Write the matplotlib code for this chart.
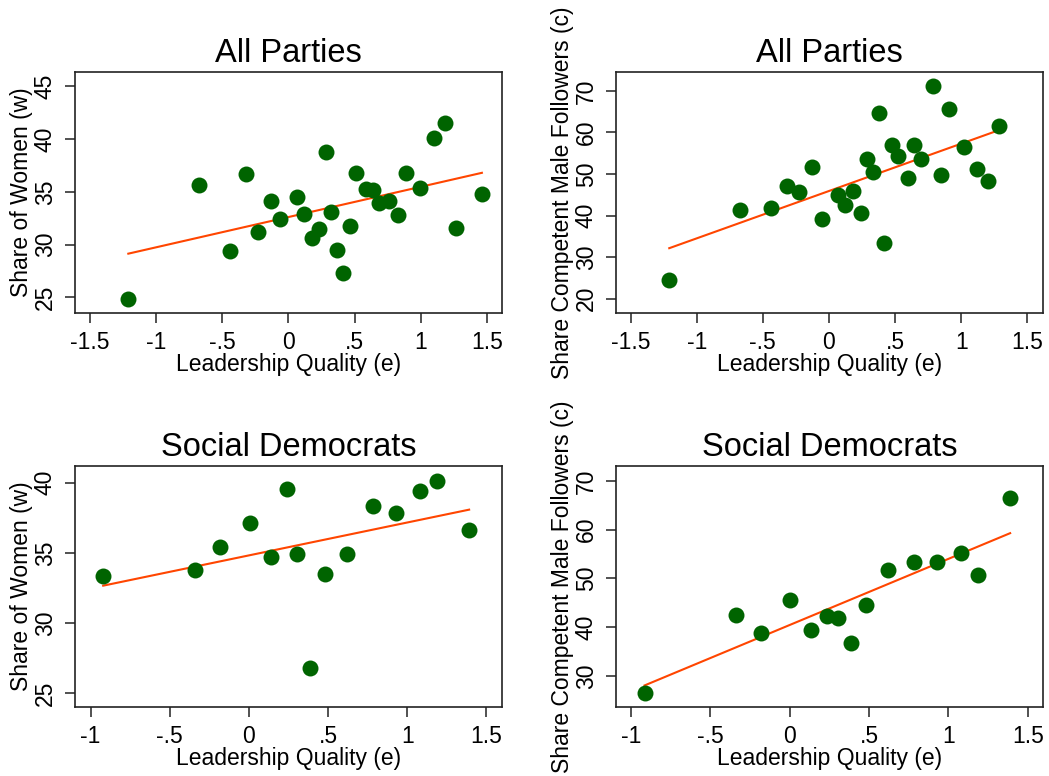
import numpy as np
import matplotlib.pyplot as plt

plt.rcParams['font.family'] = ['Liberation Sans', 'DejaVu Sans']

# All Parties: leadership quality (e) vs share of women (w)
ap_e_w = [-1.21, -0.675, -0.441, -0.322, -0.231, -0.131, -0.06, 0.066, 0.119, 0.182,
          0.232, 0.283, 0.323, 0.368, 0.414, 0.464, 0.512, 0.585, 0.643, 0.684,
          0.764, 0.832, 0.888, 0.996, 1.102, 1.183, 1.266, 1.463]
ap_w = [24.84, 35.64, 29.43, 36.71, 31.17, 34.15, 32.4, 34.55, 32.94, 30.6,
        31.46, 38.8, 33.1, 29.52, 27.34, 31.74, 36.8, 35.26, 35.16, 33.98,
        34.15, 32.85, 36.78, 35.41, 40.16, 41.55, 31.61, 34.78]

# All Parties: leadership quality (e) vs share competent male followers (c)
ap_e_c = [-1.208, -0.671, -0.439, -0.32, -0.229, -0.129, -0.055, 0.07, 0.119, 0.182,
          0.24, 0.29, 0.33, 0.376, 0.418, 0.474, 0.52, 0.6, 0.643, 0.696,
          0.784, 0.845, 0.908, 1.024, 1.122, 1.2, 1.288]
ap_c = [24.43, 41.28, 41.76, 47.2, 45.76, 51.78, 39.11, 44.96, 42.56, 45.93,
        40.56, 53.56, 50.43, 64.7, 33.48, 56.93, 54.35, 48.98, 57.07, 53.63,
        71.2, 49.7, 65.67, 56.52, 51.22, 48.41, 61.57]

# Social Democrats
sd_e = [-0.921, -0.341, -0.183, 0.004, 0.137, 0.238, 0.303, 0.386, 0.478, 0.622,
        0.784, 0.927, 1.079, 1.188, 1.391]
sd_w = [33.36, 33.78, 35.39, 37.14, 34.71, 39.58, 34.9, 26.75, 33.52, 34.9,
        38.37, 37.86, 39.44, 40.15, 36.65]
sd_e_c = [-0.913, -0.34, -0.181, 0.004, 0.136, 0.237, 0.306, 0.386, 0.481, 0.621,
          0.783, 0.928, 1.077, 1.184, 1.389]
sd_c = [26.53, 42.51, 38.84, 45.57, 39.45, 42.18, 41.9, 36.73, 44.63, 51.63,
        53.4, 53.4, 55.17, 50.67, 66.47]

xticks_all = [-1.5, -1, -0.5, 0, 0.5, 1, 1.5]
xticks_sd = [-1, -0.5, 0, 0.5, 1, 1.5]


def tick_fmt(v):
    s = f"{v:g}"
    return s.replace("0.", ".")


def panel(ax, x, y, title, ylabel, xticks, yticks, xlim, ylim):
    x = np.array(x)
    y = np.array(y)
    ax.scatter(x, y, s=132, color='#006400', linewidths=0, zorder=3)
    # linear fit line, as in the original
    b, a = np.polyfit(x, y, 1)
    xs = np.array([x.min(), x.max()])
    ax.plot(xs, a + b * xs, color='#ff4500', lw=1.5, zorder=2)
    ax.set_xlim(xlim)
    ax.set_ylim(ylim)
    ax.set_xticks(xticks)
    ax.set_xticklabels([tick_fmt(v) for v in xticks])
    ax.set_yticks(yticks)
    ax.set_yticklabels([str(v) for v in yticks], rotation=90, va='center')
    ax.tick_params(labelsize=16.5, length=7, width=1.2, pad=6, color='#333333')
    ax.set_title(title, fontsize=23.5, pad=7)
    ax.set_xlabel('Leadership Quality (e)', fontsize=16.5, labelpad=-1)
    ax.set_ylabel(ylabel, fontsize=16.5, labelpad=1)
    for sp in ax.spines.values():
        sp.set_linewidth(1.2)
        sp.set_color('#222222')


fig = plt.figure(figsize=(10.49, 7.76), dpi=100)
ax1 = fig.add_axes([0.0715, 0.5963, 0.4068, 0.3113])
ax2 = fig.add_axes([0.5872, 0.5963, 0.4068, 0.3113])
ax3 = fig.add_axes([0.0715, 0.0889, 0.4068, 0.3106])
ax4 = fig.add_axes([0.5872, 0.0889, 0.4068, 0.3106])

panel(ax1, ap_e_w, ap_w, 'All Parties', 'Share of Women (w)',
      xticks_all, [25, 30, 35, 40, 45], (-1.613, 1.613), (23.5, 46.4))
panel(ax2, ap_e_c, ap_c, 'All Parties', 'Share Competent Male Followers (c)',
      xticks_all, [20, 30, 40, 50, 60, 70], (-1.611, 1.617), (16.5, 74.6))
panel(ax3, sd_e, sd_w, 'Social Democrats', 'Share of Women (w)',
      xticks_sd, [25, 30, 35, 40], (-1.099, 1.597), (24.0, 41.19))
panel(ax4, sd_e_c, sd_c, 'Social Democrats', 'Share Competent Male Followers (c)',
      xticks_sd, [30, 40, 50, 60, 70], (-1.093, 1.594), (23.6, 73.06))

fig.savefig('out.png', dpi=100, facecolor='white')
